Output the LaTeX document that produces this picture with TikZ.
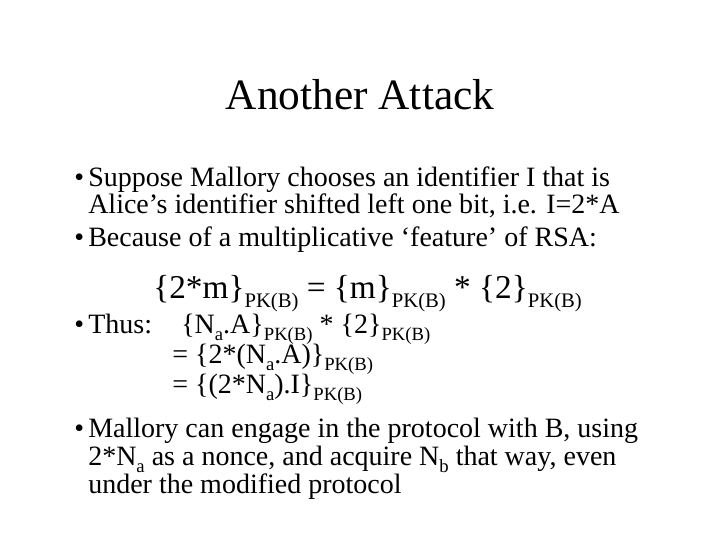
\documentclass[tikz,border=0pt]{standalone}
\usepackage{fontspec}
\setmainfont{Liberation Serif}
\newcommand{\lo}[1]{\raisebox{-0.6ex}{\fontsize{15.5}{15.5}\selectfont #1}}
\newcommand{\los}[1]{\raisebox{-0.6ex}{\fontsize{14}{14}\selectfont #1}}
\begin{document}
\begin{tikzpicture}[x=0.75pt,y=-0.75pt,
  txt/.style={anchor=base west,inner sep=0pt,font=\fontsize{21}{21}\selectfont},
  big/.style={anchor=base west,inner sep=0pt,font=\fontsize{25}{25}\selectfont}]
\useasboundingbox (0,0) rectangle (720,540);
\node[anchor=base,inner sep=0pt,font=\fontsize{32.5}{32.5}\selectfont] (title) at (360,109) {Another Attack};
\node[txt] (b1) at (74,186) {•};
\node[txt] (l1) at (88,186) {Suppose Mallory chooses an identifier I that is};
\node[txt] (l2) at (88,213) {Alice’s identifier shifted left one bit, i.e. I=2*A};
\node[txt] (b2) at (74,246) {•};
\node[txt] (l3) at (88,246) {Because of a multiplicative ‘feature’ of RSA:};
\node[big] (f) at (153,298) {\{2*m\}\lo{PK(B)} = \{m\}\lo{PK(B)} * \{2\}\lo{PK(B)}};
\node[txt] (b3) at (74,333) {•};
\node[txt] (l4) at (88,333) {Thus:};
\node[txt] (l5) at (181,333) {\{N\los{a}.A\}\los{PK(B)} * \{2\}\los{PK(B)}};
\node[txt] (l6) at (172,363) {=\ \{2*(N\los{a}.A)\}\los{PK(B)}};
\node[txt] (l7) at (172,393) {=\ \{(2*N\los{a}).I\}\los{PK(B)}};
\node[txt] (b4) at (74,437) {•};
\node[txt] (l8) at (88,437) {Mallory can engage in the protocol with B, using};
\node[txt] (l9) at (88,465) {2*N\los{a} as a nonce, and acquire N\los{b} that way, even};
\node[txt] (l10) at (88,493) {under the modified protocol};
\end{tikzpicture}
\end{document}
